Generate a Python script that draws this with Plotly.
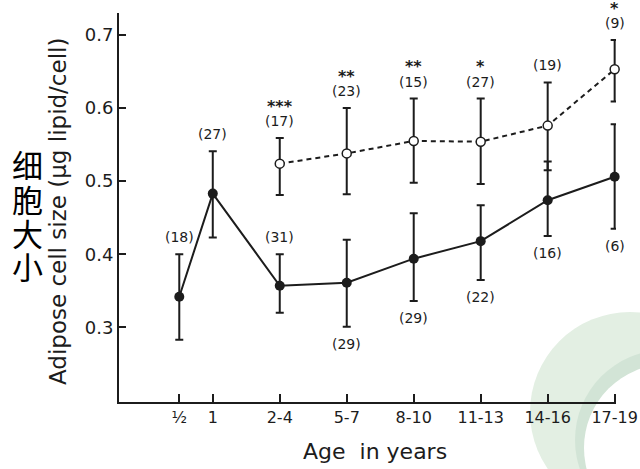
import plotly.graph_objects as go

# ---------------- data ----------------
age_labels = ["½", "1", "2-4", "5-7", "8-10", "11-13", "14-16", "17-19"]
age_pos = [0.5, 1, 2, 3, 4, 5, 6, 7]

# solid series (all ages)
solid_mean = [0.342, 0.483, 0.357, 0.361, 0.394, 0.418, 0.474, 0.506]
solid_upper = [0.400, 0.541, 0.400, 0.420, 0.456, 0.467, 0.527, 0.578]
solid_lower = [0.283, 0.423, 0.320, 0.301, 0.336, 0.365, 0.425, 0.435]
solid_n = [18, 27, 31, 29, 29, 22, 16, 6]
solid_label_above = [True, True, True, False, False, False, False, False]

# open series (from 2-4 onwards)
open_pos = age_pos[2:]
open_mean = [0.524, 0.538, 0.555, 0.554, 0.576, 0.653]
open_upper = [0.559, 0.600, 0.613, 0.613, 0.635, 0.693]
open_lower = [0.481, 0.482, 0.498, 0.496, 0.515, 0.609]
open_n = [17, 23, 15, 27, 19, 9]
open_stars = ["***", "**", "**", "*", "", "*"]

y_ticks = [0.3, 0.4, 0.5, 0.6, 0.7]

INK = "#1c1c1c"
FONT = "DejaVu Sans"

fig = go.Figure()

# watermark ring (decoration, in paper coords)
L, R, T, B = 119, 616, 13, 402
W, H = R - L, B - T
def px(x):
    return (x - L) / W
def py(y):
    return (B - y) / H

for cx, cy, r, col in [(630, 412, 100, "#e3efe3"), (665, 440, 90, "#d2e4d6"), (668, 448, 84, "#ffffff")]:
    fig.add_shape(type="circle", xref="paper", yref="paper",
                  x0=px(cx - r), x1=px(cx + r), y0=py(cy + r), y1=py(cy - r),
                  fillcolor=col, line=dict(width=0), layer="below")

fig.add_trace(go.Scatter(
    x=age_pos, y=solid_mean, mode="lines+markers",
    line=dict(color=INK, width=2),
    marker=dict(symbol="circle", size=10, color=INK),
    error_y=dict(type="data", symmetric=False,
                 array=[u - m for u, m in zip(solid_upper, solid_mean)],
                 arrayminus=[m - l for m, l in zip(solid_mean, solid_lower)],
                 color=INK, thickness=2, width=4),
    showlegend=False, cliponaxis=False))

fig.add_trace(go.Scatter(
    x=open_pos, y=open_mean, mode="lines+markers",
    line=dict(color=INK, width=2, dash="5px,4px"),
    marker=dict(symbol="circle", size=9, color="white", line=dict(color=INK, width=1.5)),
    error_y=dict(type="data", symmetric=False,
                 array=[u - m for u, m in zip(open_upper, open_mean)],
                 arrayminus=[m - l for m, l in zip(open_mean, open_lower)],
                 color=INK, thickness=2, width=4),
    showlegend=False, cliponaxis=False))

ann = []
for x, n, up, lo, above in zip(age_pos, solid_n, solid_upper, solid_lower, solid_label_above):
    ann.append(dict(x=x, y=up if above else lo, text=f"({n})", showarrow=False,
                    xanchor="center", yanchor="middle",
                    yshift=17 if above else -17, font=dict(size=14, color=INK, family=FONT)))
for x, n, up, st in zip(open_pos, open_n, open_upper, open_stars):
    ann.append(dict(x=x, y=up, text=f"({n})", showarrow=False, yshift=17,
                    xanchor="center", yanchor="middle",
                    font=dict(size=14, color=INK, family=FONT)))
    if st:
        ann.append(dict(x=x, y=up, text=f"<b>{st}</b>", showarrow=False, yshift=32,
                        xanchor="center", yanchor="middle",
                        font=dict(size=16, color=INK, family=FONT)))

# axis titles
ann.append(dict(xref="paper", yref="paper", x=px(58), y=py(212),
                xanchor="center", yanchor="middle",
                text="Adipose cell size (μg lipid/cell)", textangle=-90, showarrow=False,
                font=dict(size=23, color=INK, family=FONT)))
ann.append(dict(xref="paper", yref="paper", x=px(375), y=py(451),
                xanchor="center", yanchor="middle",
                text="Age  in years", showarrow=False,
                font=dict(size=22, color=INK, family=FONT)))
for ch, yy in zip("细胞大小", [164, 198, 232, 265]):
    ann.append(dict(xref="paper", yref="paper", x=px(27), y=py(yy), text=ch, showarrow=False,
                    xanchor="center", yanchor="middle",
                    font=dict(size=31, color="#000000", family="Noto Sans CJK SC")))

fig.update_layout(
    width=640, height=469,
    margin=dict(l=L, r=640 - R, t=T, b=469 - B, autoexpand=False),
    paper_bgcolor="white", plot_bgcolor="rgba(0,0,0,0)",
    annotations=ann,
    font=dict(family=FONT, color=INK),
)
fig.update_xaxes(range=[-0.4, 7.02], tickmode="array", tickvals=age_pos, ticktext=age_labels,
                 automargin=False,
                 showgrid=False, zeroline=False, showline=True, linecolor=INK, linewidth=2,
                 ticks="inside", ticklen=8, tickwidth=2, tickcolor=INK,
                 tickfont=dict(size=16, color=INK, family=FONT))
fig.update_yaxes(range=[0.198, 0.73], tickmode="array", tickvals=y_ticks,
                 ticktext=[f"{v:.1f}" for v in y_ticks], automargin=False,
                 showgrid=False, zeroline=False, showline=True, linecolor=INK, linewidth=2,
                 ticks="inside", ticklen=7, tickwidth=2, tickcolor=INK,
                 tickfont=dict(size=18, color=INK, family=FONT))

fig.write_html("out.html")
